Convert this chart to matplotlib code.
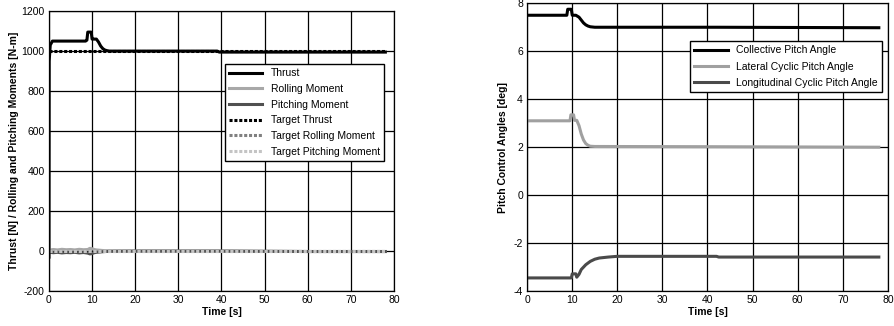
import numpy as np
import matplotlib.pyplot as plt

plt.rcParams['font.family'] = ['Liberation Sans', 'DejaVu Sans']
plt.rcParams['axes.unicode_minus'] = False

# left panel: thrust and moments
t_thrust = [0, 0.05, 0.3, 0.8, 8.5, 8.8, 9.0, 9.8, 10.0, 10.3, 11.0, 11.5, 12.0, 12.5, 13.0, 13.5, 14.0, 39, 39.5, 78]
thrust = [-30, 950, 1030, 1050, 1050, 1055, 1095, 1095, 1060, 1060, 1060, 1045, 1025, 1012, 1005, 1002, 1000, 1000, 995, 995]

t_mom = [0, 1, 2, 3, 4, 5, 6, 7, 8, 9, 9.5, 10, 10.5, 11, 12, 13, 14, 20, 40, 60, 78]
rolling = [5, 8, 6, 9, 7, 8, 6, 9, 7, 8, 14, 12, 8, 6, 4, 2, 1, 0, 0, -2, -2]
pitching = [-5, -8, -6, -9, -7, -8, -6, -9, -7, -10, -14, -12, -8, -6, -4, -2, -1, 0, 0, -2, -2]

t_target = [0, 78]
target_thrust = [1000, 1000]
target_rolling = [0, 0]
target_pitching = [0, 0]

# right panel: pitch control angles
t_coll = [0, 8.8, 9.0, 9.8, 10.0, 10.8, 11.5, 12.0, 12.5, 13.0, 13.5, 14.0, 15.0, 16, 42, 78]
collective = [7.5, 7.5, 7.75, 7.75, 7.5, 7.5, 7.42, 7.3, 7.18, 7.1, 7.05, 7.02, 7.0, 7.0, 7.0, 6.98]

t_lat = [0, 9.5, 9.7, 10.3, 10.5, 11.0, 11.5, 12.0, 12.5, 13.0, 13.5, 14.0, 15.0, 42, 78]
lateral = [3.1, 3.1, 3.35, 3.35, 3.12, 3.12, 2.9, 2.55, 2.3, 2.15, 2.08, 2.04, 2.03, 2.02, 2.0]

t_lon = [0, 9.8, 10.0, 10.8, 11.0, 11.5, 12.0, 13.0, 14.0, 15.0, 16.0, 17.0, 18.0, 20.0, 42, 42.5, 78]
longitudinal = [-3.45, -3.45, -3.28, -3.28, -3.42, -3.3, -3.1, -2.9, -2.76, -2.67, -2.62, -2.6, -2.58, -2.55, -2.55, -2.58, -2.58]

fig = plt.figure(figsize=(8.95, 3.26), dpi=100)

ax1 = fig.add_axes([0.0547, 0.107, 0.3855, 0.859])
ax1.plot(t_mom, rolling, color='#a8a8a8', lw=2.2, label='Rolling Moment', zorder=3)
ax1.plot(t_mom, pitching, color='#505050', lw=2.2, label='Pitching Moment', zorder=3)
ax1.plot(t_thrust, thrust, color='black', lw=2.2, label='Thrust', zorder=4)
ax1.plot(t_target, target_thrust, color='black', lw=2.2, ls=(0, (1, 0.6)), label='Target Thrust', zorder=4)
ax1.plot(t_target, target_rolling, color='#808080', lw=2.2, ls=(0, (1, 0.6)), label='Target Rolling Moment', zorder=3)
ax1.plot(t_target, target_pitching, color='#c4c4c4', lw=2.2, ls=(0, (1, 0.6)), label='Target Pitching Moment', zorder=3)
ax1.set_xlim(0, 80)
ax1.set_ylim(-200, 1200)
ax1.set_xticks(range(0, 81, 10))
ax1.set_yticks(range(-200, 1201, 200))
ax1.grid(True, color='black', lw=0.9)
ax1.set_xlabel('Time [s]', fontweight='bold', fontsize=7.5, labelpad=1)
ax1.set_ylabel('Thrust [N] / Rolling and Pitching Moments [N-m]', fontweight='bold', fontsize=7.5, labelpad=2)
ax1.tick_params(labelsize=7.5, length=0, pad=3)
h, l = ax1.get_legend_handles_labels()
order = [2, 0, 1, 3, 4, 5]
ax1.legend([h[i] for i in order], [l[i] for i in order], loc='upper right',
           bbox_to_anchor=(0.971, 0.811), borderaxespad=0, fontsize=7.5, fancybox=False,
           edgecolor='black', framealpha=1, handlelength=3.2, borderpad=0.4,
           labelspacing=0.55)

ax2 = fig.add_axes([0.589, 0.107, 0.403, 0.883])
ax2.plot(t_coll, collective, color='black', lw=2.2, label='Collective Pitch Angle')
ax2.plot(t_lat, lateral, color='#a0a0a0', lw=2.2, label='Lateral Cyclic Pitch Angle')
ax2.plot(t_lon, longitudinal, color='#4a4a4a', lw=2.2, label='Longitudinal Cyclic Pitch Angle')
ax2.set_xlim(0, 80)
ax2.set_ylim(-4, 8)
ax2.set_xticks(range(0, 81, 10))
ax2.set_yticks(range(-4, 9, 2))
ax2.grid(True, color='black', lw=0.9)
ax2.set_xlabel('Time [s]', fontweight='bold', fontsize=7.5, labelpad=1)
ax2.set_ylabel('Pitch Control Angles [deg]', fontweight='bold', fontsize=7.5, labelpad=4)
ax2.tick_params(labelsize=7.5, length=0, pad=3)
ax2.legend(loc='upper right', bbox_to_anchor=(0.983, 0.868), borderaxespad=0, fontsize=7.5,
           fancybox=False, edgecolor='black', framealpha=1, handlelength=3.2, borderpad=0.4,
           labelspacing=0.6)

for ax in (ax1, ax2):
    for s in ax.spines.values():
        s.set_linewidth(0.9)

fig.savefig('out.png', dpi=100)
